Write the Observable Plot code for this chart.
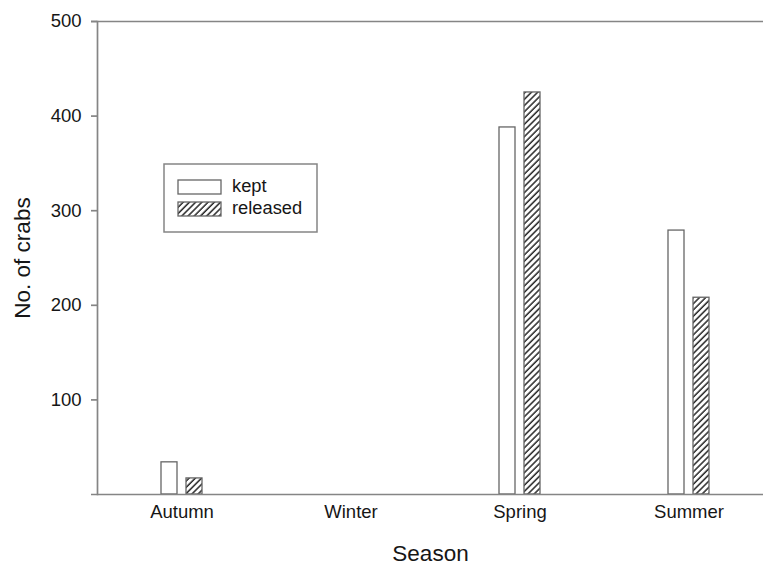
<!DOCTYPE html>
<html>
<head>
<meta charset="utf-8">
<script src="https://cdn.jsdelivr.net/npm/d3@7"></script>
<script src="https://cdn.jsdelivr.net/npm/@observablehq/plot@0.6"></script>
<style>
  html, body { margin: 0; padding: 0; background: #fff; }
  #chart { position: relative; width: 763px; height: 565px; }
</style>
</head>
<body>
<div id="chart"></div>
<script>
// ---- data ----
const seasons = ["Autumn", "Winter", "Spring", "Summer"];
const seriesNames = ["kept", "released"];
const keptValues = [34, 0, 388, 279];
const releasedValues = [17, 0, 425, 208];
const yTicks = [100, 200, 300, 400, 500];
const xTitle = "Season";
const yTitle = "No. of crabs";

const rows = seasons.flatMap((s, i) => [
  {season: s, type: seriesNames[0], value: keptValues[i]},
  {season: s, type: seriesNames[1], value: releasedValues[i]}
]);

const lineColor = "#858585";
const textColor = "#161616";
const barStroke = "#666666";
const font = "'Liberation Sans', Arial, sans-serif";

const plot = Plot.plot({
  width: 763,
  height: 565,
  marginLeft: 97,
  marginRight: 0,
  marginTop: 21,
  marginBottom: 71,
  style: {fontFamily: font, fontSize: "18.5px", color: textColor, background: "#fff"},
  x: {domain: seasons, range: [97, 773], padding: 0},
  y: {domain: [0, 500]},
  marks: [
    Plot.barY(rows.filter(d => d.type === seriesNames[0]), {
      x: "season", y: "value", fill: "#fff", stroke: barStroke, strokeWidth: 1.3,
      insetLeft: 76.5, insetRight: 76.5, dx: -12.5
    }),
    Plot.barY(rows.filter(d => d.type === seriesNames[1]), {
      x: "season", y: "value", fill: "url(#hatch)", stroke: barStroke, strokeWidth: 1.3,
      insetLeft: 76.5, insetRight: 76.5, dx: 12.5
    }),
    Plot.frame({anchor: "left", stroke: lineColor, strokeWidth: 1.7}),
    Plot.ruleY([0, 500], {stroke: lineColor, strokeWidth: 1.7, insetLeft: -6}),
    Plot.axisY({
      ticks: yTicks, tickSize: 6, tickPadding: 10, stroke: lineColor, strokeWidth: 1.7,
      fontSize: 18.5, fill: textColor, label: null
    }),
    Plot.axisY({
      ticks: [], tickSize: 0, fontSize: 22.5, fill: textColor,
      label: yTitle, labelAnchor: "center", labelArrow: "none", labelOffset: 83
    }),
    Plot.axisX({
      tickSize: 0, tickPadding: 10, fontSize: 18.5, fill: textColor,
      label: null
    }),
    Plot.axisX({
      tickSize: 0, ticks: [], fontSize: 22.5, fill: textColor,
      label: xTitle, labelAnchor: "center", labelArrow: "none", labelOffset: 66
    })
  ]
});

// Hatch pattern definition
const svg = d3.select(plot);
const defs = svg.insert("defs", ":first-child");
const pat = defs.append("pattern")
  .attr("id", "hatch").attr("patternUnits", "userSpaceOnUse")
  .attr("width", 4.4).attr("height", 4.4)
  .attr("patternTransform", "rotate(45)");
pat.append("rect").attr("width", 4.4).attr("height", 4.4).attr("fill", "#fff");
pat.append("line").attr("x1", 1).attr("y1", 0).attr("x2", 1).attr("y2", 4.4)
  .attr("stroke", "#262626").attr("stroke-width", 1.5);

// Legend (inside plot area)
const lg = svg.append("g").attr("transform", "translate(164,164)")
  .style("font-family", font).style("font-size", "18.3px");
lg.append("rect").attr("width", 153).attr("height", 68)
  .attr("fill", "#fff").attr("stroke", lineColor).attr("stroke-width", 1.5);
seriesNames.forEach((name, i) => {
  const y = 16 + i * 22;
  lg.append("rect").attr("x", 14).attr("y", y).attr("width", 43).attr("height", 14)
    .attr("fill", i === 0 ? "#fff" : "url(#hatch)").attr("stroke", barStroke).attr("stroke-width", 1.3);
  lg.append("text").attr("x", 68).attr("y", y + 6).attr("dy", "0.35em")
    .attr("text-anchor", "start").attr("fill", textColor).text(name);
});

document.getElementById("chart").appendChild(plot);
</script>
</body>
</html>
